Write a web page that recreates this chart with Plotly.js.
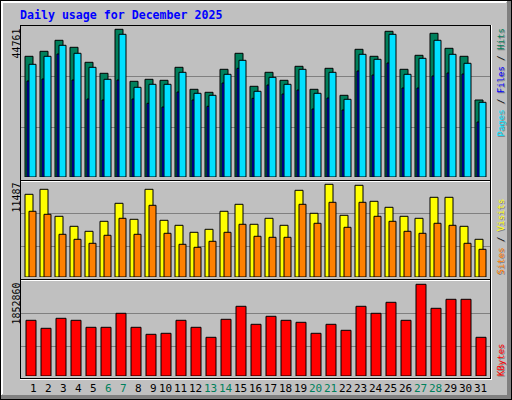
<!DOCTYPE html>
<html>
<head>
<meta charset="utf-8">
<script src="https://cdn.plot.ly/plotly-3.0.1.min.js"></script>
<style>html,body{margin:0;padding:0;background:#C0C0C0;}#chart{width:512px;height:400px;}</style>
</head>
<body>
<div id="chart"></div>
<script>
// ---- data ----
var days = [1,2,3,4,5,6,7,8,9,10,11,12,13,14,15,16,17,18,19,20,21,22,23,24,25,26,27,28,29,30,31];
var weekendDays = [6,7,13,14,20,21,27,28];
var hits = [36578,38093,41427,39305,34760,31426,44761,29002,29608,29305,33244,26577,25668,32639,37487,27487,31729,29305,33547,26577,32941,24759,38700,36578,44155,32639,36881,43548,39002,36578,23335];
var files = [29093,29699,37275,29396,23638,23335,29396,23638,22335,21214,25759,23335,21426,28487,32941,23850,27881,25153,26365,20607,23941,20304,32123,30911,34548,26971,26971,30608,31517,31214,16668];
var pages = [34154,36578,39912,37487,33244,29608,43246,27184,28093,28093,31729,25365,24759,31123,35366,25971,30214,28093,32639,25365,31729,23547,37184,35669,43246,31123,35972,41427,37184,34457,22638];
var visits = [10248,10868,7522,6283,5663,6902,9133,7150,10868,7026,6407,5539,5911,8142,9009,6531,7274,6407,10744,7894,11487,7646,11363,9381,8637,7522,7274,9876,9876,6283,4672];
var sites = [8142,7770,5291,4672,4176,5168,7274,5291,8885,5415,4052,3680,4424,5539,6531,5044,4920,4920,9009,6655,9257,6159,9257,7522,6902,5663,5415,6655,6407,4176,3433];
var kbytes = [1125474,963826,1165886,1125474,984032,984032,1266916,984032,842590,862796,1125474,984032,781972,1145680,1408358,1044650,1206298,1125474,1085062,862796,1044650,923414,1408358,1266916,1489182,1125474,1852860,1367946,1549800,1549800,781972];
var title = "Daily usage for December 2025";

// ---- styling ----
var W = 512, H = 400;
var C = {hits:'#00805C', files:'#0000FF', pages:'#00E0FF', visits:'#FFFF00', sites:'#FF8000', kbytes:'#FF0000', bg:'#C0C0C0'};
var U = 1/15; // one pixel in x data units (15 px per day)
function px(x){return x/W;}
function py(y){return 1 - y/H;}

function bar(y, color, off, wid, ax){
  return {type:'bar', x:days, y:y, xaxis:'x', yaxis:ax, offset:off*U, width:wid*U,
          marker:{color:color, line:{color:'#000000', width:1}}, hoverinfo:'skip'};
}
var traces = [
  bar(hits, C.hits, 0, 8, 'y'),
  bar(files, C.files, 2, 8, 'y'),
  bar(pages, C.pages, 4, 7, 'y'),
  bar(visits, C.visits, 0, 8, 'y2'),
  bar(sites, C.sites, 4, 7, 'y2'),
  bar(kbytes, C.kbytes, 1, 10, 'y3')
];

function maxOf(a){return Math.max.apply(null,a);}
// panel pixel geometry: [baseline, domain top, pixel where max value sits]
function yax(base, top, maxPix, maxVal){
  return {domain:[py(base), py(top)], range:[0, maxVal*(base-top)/(base-maxPix)],
          showgrid:false, zeroline:false, showline:false, showticklabels:false, fixedrange:true};
}

var tickvals = days.map(function(d){return d + (d<10 ? 8.2 : 5.5)*U;});
var ticktext = days.map(function(d){
  return weekendDays.indexOf(d) >= 0 ? '<span style="color:#00805C">'+d+'</span>' : String(d);
});

var shapes = [];
function hline(y, x0, x1, color){shapes.push({type:'line', xref:'paper', yref:'paper', x0:px(x0), x1:px(x1), y0:py(y+0.5), y1:py(y+0.5), line:{color:color, width:1}, layer:'below'});}
function vline(x, y0, y1, color){shapes.push({type:'line', xref:'paper', yref:'paper', x0:px(x+0.5), x1:px(x+0.5), y0:py(y0), y1:py(y1), line:{color:color, width:1}, layer:'below'});}
function frect(x0,y0,x1,y1,color){shapes.push({type:'rect', xref:'paper', yref:'paper', x0:px(x0), x1:px(x1), y0:py(y0), y1:py(y1), fillcolor:color, line:{width:0}, layer:'below'});}

// outer bevel
frect(507,1,511,399,'#808080');
frect(1,395,511,399,'#808080');
hline(1,1,507,'#FFFFFF'); hline(2,1,506,'#FFFFFF');
vline(1,1,395,'#FFFFFF'); vline(2,1,394,'#FFFFFF');
hline(0,0,512,'#000000'); hline(399,0,512,'#000000');
vline(0,0,400,'#000000'); vline(511,0,400,'#000000');
// grid lines
[76,127,213,246,313,346].forEach(function(y){hline(y,21,490,'#808080');});
// plot frame
hline(25,20,491,'#000000');
vline(20,25,379,'#000000');
hline(180,20,491,'#000000'); hline(181,21,490,'#FFFFFF');
hline(279,20,491,'#000000'); hline(280,21,490,'#FFFFFF');
hline(378,20,491,'#000000'); hline(379,20,492,'#FFFFFF');
vline(490,25,379,'#000000'); vline(491,25,380,'#FFFFFF');

var mono = 'DejaVu Sans Mono, Liberation Mono, monospace';
var annotations = [
  {text:title, xref:'paper', yref:'paper', x:px(18), y:py(15), xanchor:'left', yanchor:'middle', showarrow:false,
   font:{family:mono, size:11.6, weight:'bold', color:'#0000FF'}},
  {text:String(maxOf(hits)), xref:'paper', yref:'paper', x:px(15.5), y:py(27), xanchor:'center', yanchor:'top', textangle:-90, showarrow:false, font:{family:mono, size:10, color:'#000000'}},
  {text:String(maxOf(visits)), xref:'paper', yref:'paper', x:px(15.5), y:py(181), xanchor:'center', yanchor:'top', textangle:-90, showarrow:false, font:{family:mono, size:10, color:'#000000'}},
  {text:String(maxOf(kbytes)), xref:'paper', yref:'paper', x:px(15.5), y:py(281), xanchor:'center', yanchor:'top', textangle:-90, showarrow:false, font:{family:mono, size:10, color:'#000000'}}
];
function sideLabel(parts, cx, y, anchor){
  var plain = parts.map(function(p){return p[0];}).join('');
  var colored = parts.map(function(p){return p[1] ? '<span style="color:'+p[1]+'">'+p[0]+'</span>' : p[0];}).join('');
  annotations.push({text:plain, xref:'paper', yref:'paper', x:px(cx+1), y:py(y+1), xanchor:'center', yanchor:anchor, textangle:-90, showarrow:false, font:{family:mono, size:9, color:'#808080'}});
  annotations.push({text:colored, xref:'paper', yref:'paper', x:px(cx), y:py(y), xanchor:'center', yanchor:anchor, textangle:-90, showarrow:false, font:{family:mono, size:9, color:'#000000'}});
}
sideLabel([['Pages',C.pages],[' / ',null],['Files',C.files],[' / ',null],['Hits',C.hits]], 500.5, 27, 'top');
sideLabel([['Sites',C.sites],[' / ',null],['Visits',C.visits]], 500.5, 277, 'bottom');
sideLabel([['KBytes',C.kbytes]], 500.5, 378, 'bottom');

var layout = {
  width:W, height:H, margin:{l:0,r:0,t:0,b:0,pad:0},
  paper_bgcolor:C.bg, plot_bgcolor:'rgba(0,0,0,0)', showlegend:false, barmode:'overlay',
  xaxis:{domain:[px(20), px(491)], range:[1 - 5*U, 1 - 5*U + 471*U], anchor:'y3',
         showgrid:false, zeroline:false, showline:false, ticks:'', tickvals:tickvals, ticktext:ticktext,
         tickangle:0, tickfont:{family:mono, size:11, color:'#000000'}, ticklabelstandoff:4, fixedrange:true},
  yaxis:yax(177, 26, 29.3, maxOf(hits)),
  yaxis2:yax(277, 182, 184.3, maxOf(visits)),
  yaxis3:yax(376, 282, 284.3, maxOf(kbytes)),
  shapes:shapes, annotations:annotations, hovermode:false
};
Plotly.newPlot('chart', traces, layout, {displayModeBar:false, staticPlot:true});
</script>
</body>
</html>
